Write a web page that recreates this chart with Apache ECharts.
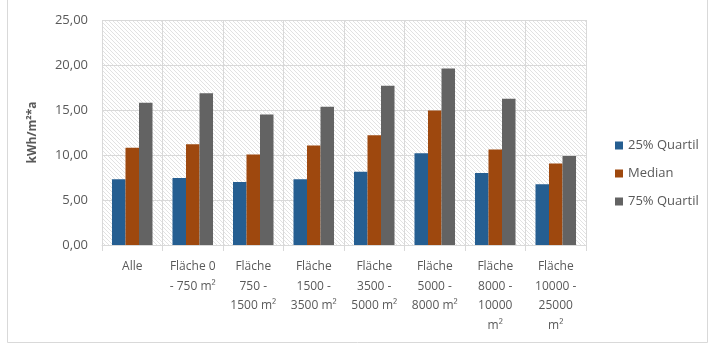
<!DOCTYPE html>
<html>
<head>
<meta charset="utf-8">
<script src="https://cdn.jsdelivr.net/npm/echarts@6/dist/echarts.min.js"></script>
<style>
  html, body { margin: 0; padding: 0; background: #fff; }
  #chart { width: 709px; height: 344px; }
</style>
</head>
<body>
<div id="chart"></div>
<script>
// Building size classes
const categories = [
  'Alle',
  'Fläche 0\n- 750 m²',
  'Fläche\n750 -\n1500 m²',
  'Fläche\n1500 -\n3500 m²',
  'Fläche\n3500 -\n5000 m²',
  'Fläche\n5000 -\n8000 m²',
  'Fläche\n8000 -\n10000\nm²',
  'Fläche\n10000 -\n25000\nm²'
];

// Specific consumption in kWh/m²*a
const quartil25 = [7.3, 7.45, 7.0, 7.3, 8.15, 10.2, 8.0, 6.75];
const median    = [10.8, 11.2, 10.05, 11.05, 12.2, 14.95, 10.6, 9.05];
const quartil75 = [15.8, 16.85, 14.5, 15.35, 17.7, 19.6, 16.25, 9.9];

const seriesNames = ['25% Quartil', 'Median', '75% Quartil'];
const yTicks = { min: 0, max: 25, interval: 5 };

// Diagonal hatch fill for the plot area
function hatchPattern() {
  const s = 4;
  const c = document.createElement('canvas');
  c.width = s; c.height = s;
  const g = c.getContext('2d');
  g.fillStyle = '#ffffff';
  g.fillRect(0, 0, s, s);
  g.strokeStyle = '#e2e2e2';
  g.lineWidth = 1;
  g.beginPath();
  g.moveTo(-1, -1); g.lineTo(s + 1, s + 1);
  g.moveTo(-1, s - 1); g.lineTo(1, s + 1);
  g.moveTo(s - 1, -1); g.lineTo(s + 1, 1);
  g.stroke();
  return { image: c, repeat: 'repeat' };
}

const textColor = '#595959';
const fontFamily = '"Open Sans", "Noto Sans", sans-serif';

const chart = echarts.init(document.getElementById('chart'), null, { renderer: 'canvas' });
chart.setOption({
  animation: false,
  backgroundColor: '#ffffff',
  color: ['#255E91', '#9E480E', '#636363'],
  graphic: [{
    type: 'rect',
    shape: { x: 7.5, y: -2, width: 700, height: 344.5 },
    style: { fill: 'none', stroke: '#d9d9d9', lineWidth: 1 },
    silent: true
  }],
  grid: {
    left: 102, right: 123, top: 20, bottom: 99,
    show: true,
    borderWidth: 0,
    backgroundColor: hatchPattern()
  },
  legend: {
    orient: 'vertical',
    left: 610,
    top: 134,
    itemWidth: 8,
    itemHeight: 8,
    itemGap: 15,
    icon: 'rect',
    textStyle: { color: textColor, fontSize: 13, fontFamily: fontFamily },
    data: seriesNames
  },
  xAxis: {
    type: 'category',
    data: categories,
    axisLine: { lineStyle: { color: '#d9d9d9' } },
    axisTick: { show: true, length: 6, lineStyle: { color: '#d9d9d9' } },
    splitLine: { show: true, lineStyle: { color: '#d9d9d9', width: 1 } },
    axisLabel: {
      color: textColor, fontSize: 12, fontFamily: fontFamily,
      lineHeight: 19.5, margin: 12, interval: 0
    }
  },
  yAxis: {
    type: 'value',
    min: yTicks.min, max: yTicks.max, interval: yTicks.interval,
    name: 'kWh/m²*a',
    nameLocation: 'middle',
    nameGap: 63,
    nameRotate: 90,
    nameTextStyle: { color: textColor, fontSize: 12, fontWeight: 'bold', fontFamily: fontFamily },
    axisLine: { show: false },
    axisTick: { show: false },
    splitLine: { lineStyle: { color: '#d9d9d9', width: 1 } },
    axisLabel: {
      color: textColor, fontSize: 13, fontFamily: fontFamily, margin: 14,
      formatter: v => v.toFixed(2).replace('.', ',')
    }
  },
  series: [
    { name: seriesNames[0], type: 'bar', data: quartil25, barGap: '0%', barCategoryGap: '33%' },
    { name: seriesNames[1], type: 'bar', data: median, barGap: '0%', barCategoryGap: '33%' },
    { name: seriesNames[2], type: 'bar', data: quartil75, barGap: '0%', barCategoryGap: '33%' }
  ]
});
</script>
</body>
</html>
